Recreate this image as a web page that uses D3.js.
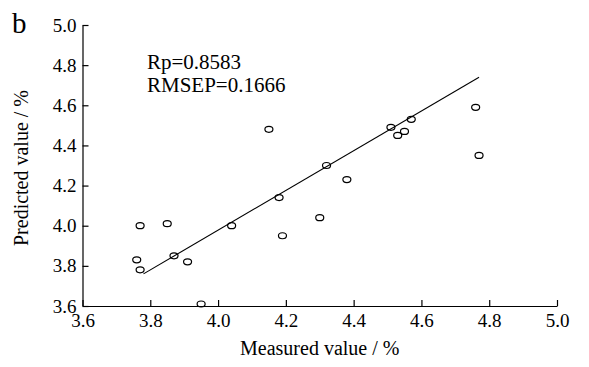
<!DOCTYPE html>
<html>
<head>
<meta charset="utf-8">
<script src="https://cdn.jsdelivr.net/npm/d3@7"></script>
<style>
  body { margin: 0; background: #fff; }
  text { font-family: "Liberation Serif", "Times New Roman", serif; fill: #000; }
  .axis path, .axis line { stroke: #000; stroke-width: 1.2; }
</style>
</head>
<body>
<div id="chart"></div>
<script>
// chart size and plot box
const width = 589;
const height = 367;
const margin = {left: 82.5, right: 32, bottom: 61, top: 25};

// data
const measured  = [3.77, 3.85, 3.76, 3.77, 3.87, 3.91, 3.95, 4.04, 4.15, 4.18,
                   4.19, 4.30, 4.32, 4.38, 4.51, 4.53, 4.55, 4.57, 4.76, 4.77];
const predicted = [4.00, 4.01, 3.83, 3.78, 3.85, 3.82, 3.61, 4.00, 4.48, 4.14,
                   3.95, 4.04, 4.30, 4.23, 4.49, 4.45, 4.47, 4.53, 4.59, 4.35];
// fitted line ends
const fitX = [3.78, 4.77];
const fitY = [3.76, 4.74];
const ticks = [3.6, 3.8, 4.0, 4.2, 4.4, 4.6, 4.8, 5.0];
const stats = ["Rp=0.8583", "RMSEP=0.1666"];

const svg = d3.select("#chart")
  .append("svg")
  .attr("width", width)
  .attr("height", height);

// scales
const x = d3.scaleLinear()
  .domain([3.6, 5.0])
  .range([margin.left, width - margin.right]);
const y = d3.scaleLinear()
  .domain([3.6, 5.0])
  .range([height - margin.bottom, margin.top]);

// axes, ticks point inward
svg.append("g")
  .attr("class", "axis")
  .attr("transform", `translate(0,${height - margin.bottom})`)
  .call(d3.axisBottom(x).tickValues(ticks).tickFormat(d3.format(".1f"))
    .tickSizeInner(-6).tickSizeOuter(0).tickPadding(8))
  .call(g => g.selectAll("text").attr("font-size", 19).attr("font-family", null));

svg.append("g")
  .attr("class", "axis")
  .attr("transform", `translate(${margin.left},0)`)
  .call(d3.axisLeft(y).tickValues(ticks).tickFormat(d3.format(".1f"))
    .tickSizeInner(-6).tickSizeOuter(0).tickPadding(6))
  .call(g => g.selectAll("text").attr("font-size", 19).attr("font-family", null));

// fitted line
svg.append("line")
  .attr("x1", x(fitX[0])).attr("y1", y(fitY[0]))
  .attr("x2", x(fitX[1])).attr("y2", y(fitY[1]))
  .attr("stroke", "#000")
  .attr("stroke-width", 1.1);

// points
svg.selectAll(".pt")
  .data(d3.range(measured.length))
  .enter()
  .append("ellipse")
    .attr("class", "pt")
    .attr("cx", i => x(measured[i]))
    .attr("cy", i => y(predicted[i]))
    .attr("rx", 4)
    .attr("ry", 3)
    .attr("fill", "none")
    .attr("stroke", "#000")
    .attr("stroke-width", 1.2);

// labels
svg.append("text")
  .attr("x", 12).attr("y", 33)
  .attr("font-size", 29)
  .text("b");

svg.selectAll(".stat")
  .data(stats)
  .enter()
  .append("text")
    .attr("class", "stat")
    .attr("x", 147)
    .attr("y", (d, i) => 69 + i * 23)
    .attr("font-size", 21)
    .text(d => d);

svg.append("text")
  .attr("x", (margin.left + width - margin.right) / 2)
  .attr("y", 355)
  .attr("text-anchor", "middle")
  .attr("font-size", 20)
  .text("Measured value / %");

svg.append("text")
  .attr("transform", `translate(28,168) rotate(-90)`)
  .attr("text-anchor", "middle")
  .attr("font-size", 20)
  .text("Predicted value / %");
</script>
</body>
</html>
